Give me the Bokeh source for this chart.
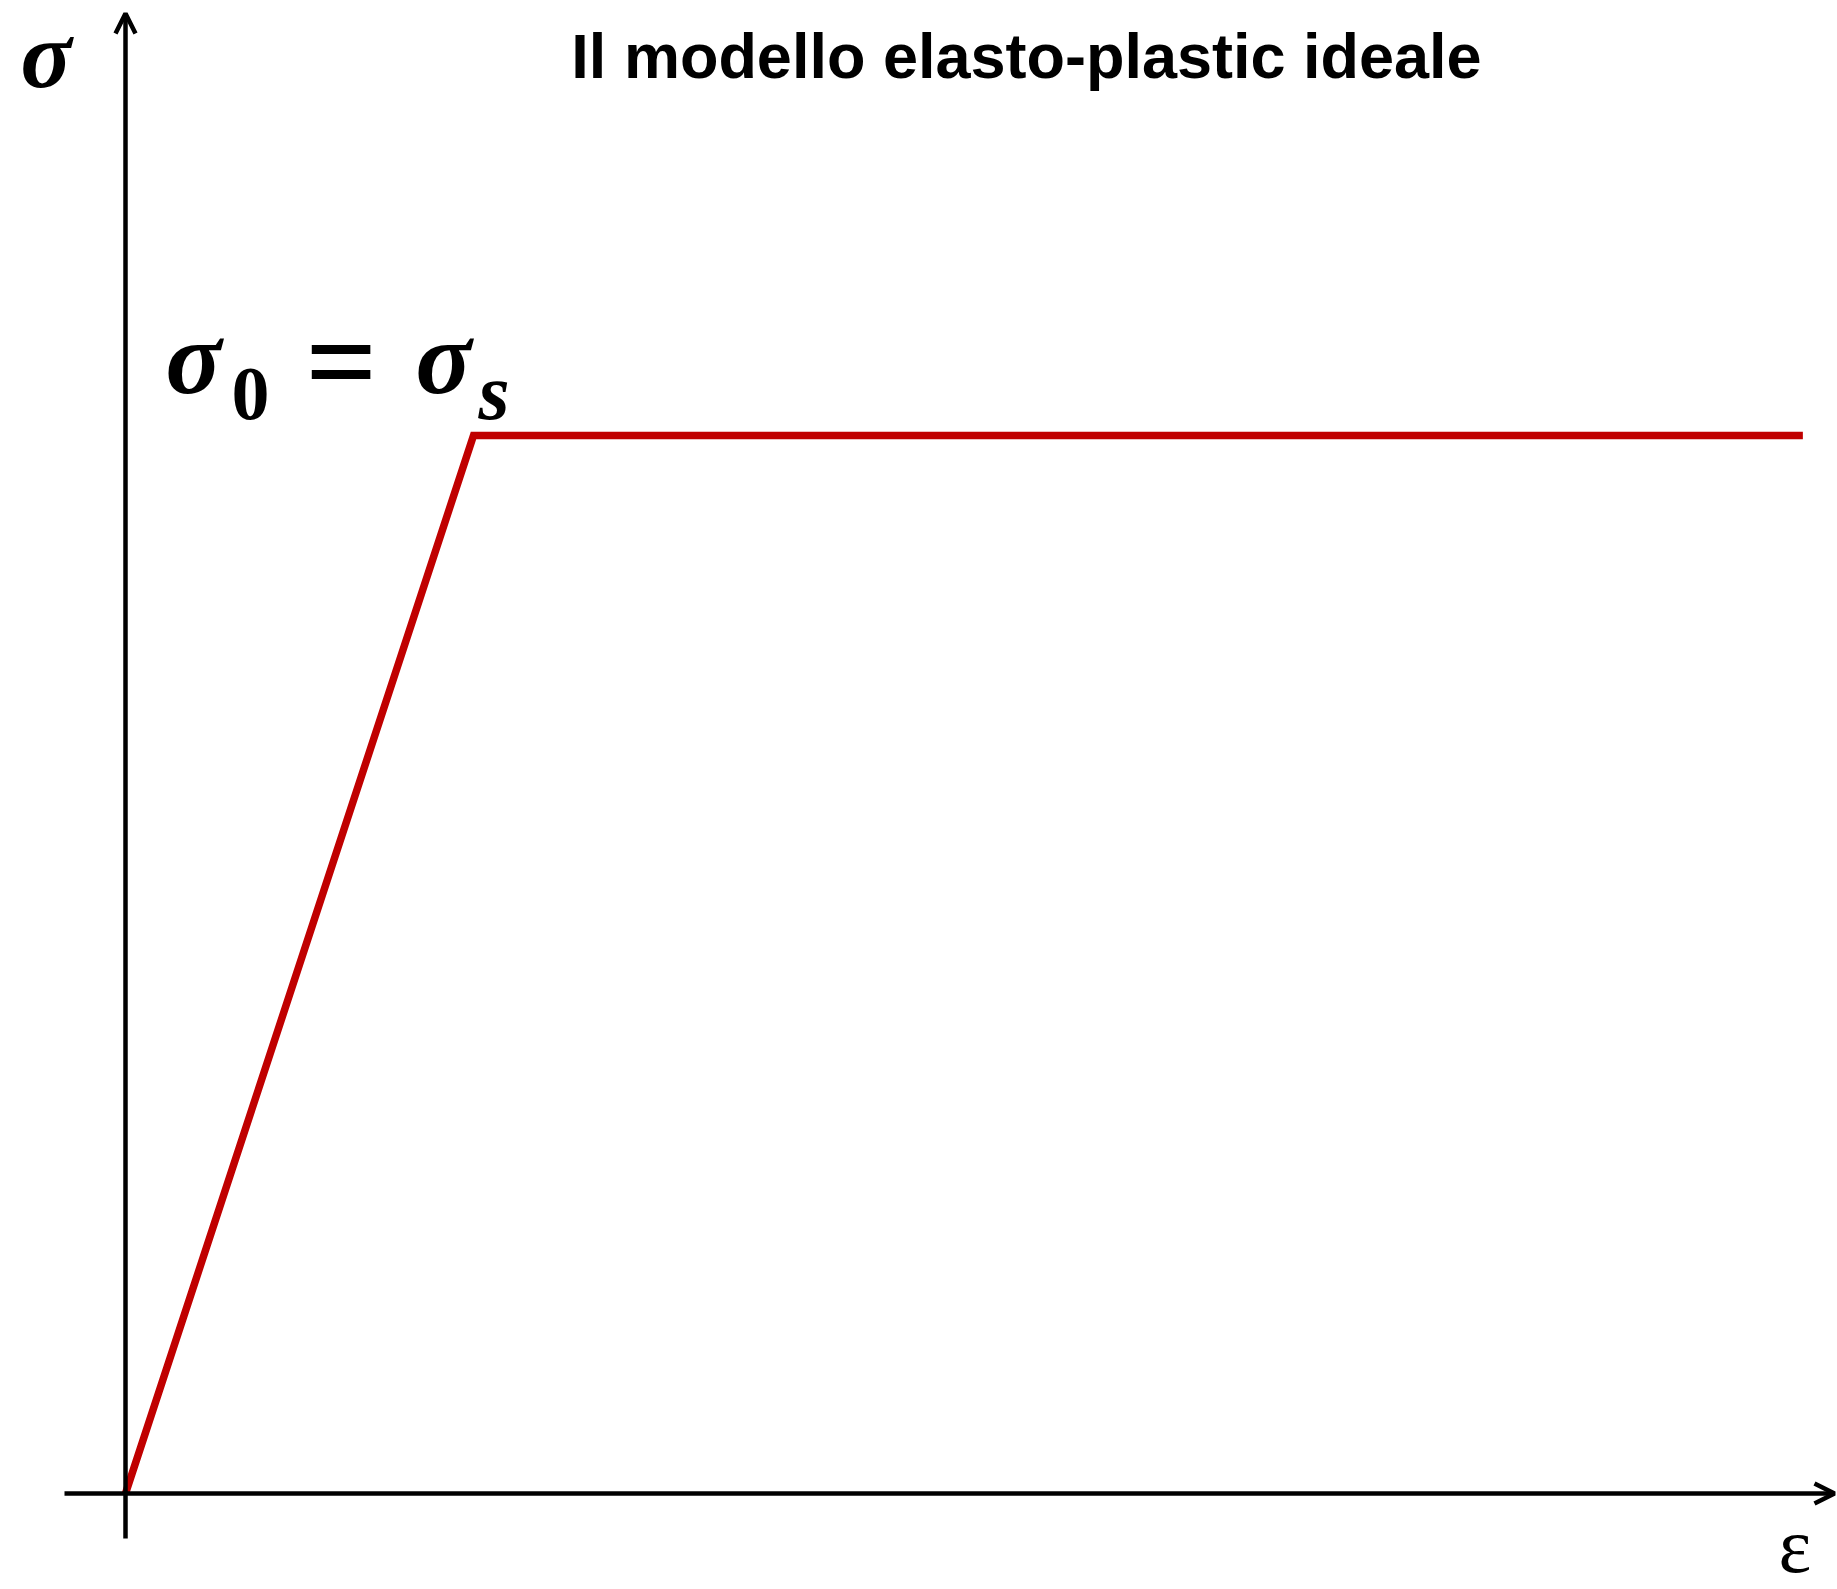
from bokeh.plotting import figure
from bokeh.models import Range1d, Label, Arrow, OpenHead
from bokeh.embed import file_html
from bokeh.resources import INLINE

# Data (normalized units: strain relative to yield strain, stress relative to yield stress)
strain = [0.0, 1.0, 4.82]
stress = [0.0, 1.0, 1.0]

title_text = "Il modello elasto-plastic ideale"
y_label = "σ"
x_label = "ε"

W, H = 1836, 1588
OFF = 0
X0, XK = 125.0, 473.0
Y0, YK = 1493.0, 435.0
sx = XK - X0
sy = Y0 - YK

def dx(px):
    return (px - X0) / sx

def dy(py):
    return (Y0 - py) / sy

p = figure(width=W, height=H, output_backend="svg", toolbar_location=None,
           x_range=Range1d(dx(OFF), dx(OFF + W)), y_range=Range1d(dy(OFF + H), dy(OFF)),
           min_border=0)
p.axis.visible = False
p.grid.visible = False
p.outline_line_color = None
p.background_fill_color = "white"

p.add_layout(Arrow(end=OpenHead(size=20, line_width=4.5, line_color="black"),
                   x_start=dx(64), y_start=0, x_end=dx(1834), y_end=0,
                   line_width=4.5, line_color="black"))
p.add_layout(Arrow(end=OpenHead(size=20, line_width=4.5, line_color="black"),
                   x_start=0, y_start=dy(1538), x_end=0, y_end=dy(13),
                   line_width=4.5, line_color="black"))

p.line(strain, stress, line_width=7.5, line_color="#C00000", line_join="miter")

def shift(fs):
    return 0.39 * fs

def add_label(text, px, base, font, style, fs, align="left"):
    p.add_layout(Label(x=dx(px), y=dy(base - shift(fs)), text=text, text_font=font,
                       text_font_style=style, text_font_size=f"{fs}px", text_align=align,
                       text_baseline="alphabetic", text_color="black"))

SERIF = "Liberation Serif"
add_label(title_text, 1026, 80, "Liberation Sans", "bold", 63, "center")
add_label(x_label, 1778, 1575, SERIF, "normal", 78)
add_label(y_label, 20, 92, SERIF, "bold italic", 95)
add_label("σ", 165, 398, SERIF, "bold italic", 104)
add_label("0", 231, 423, SERIF, "bold", 76)
add_label("=", 305, 410, SERIF, "bold", 126)
add_label("σ", 415, 398, SERIF, "bold italic", 104)
add_label("s", 478, 423, SERIF, "bold italic", 80)

open("out.html", "w").write(file_html(p, INLINE))
